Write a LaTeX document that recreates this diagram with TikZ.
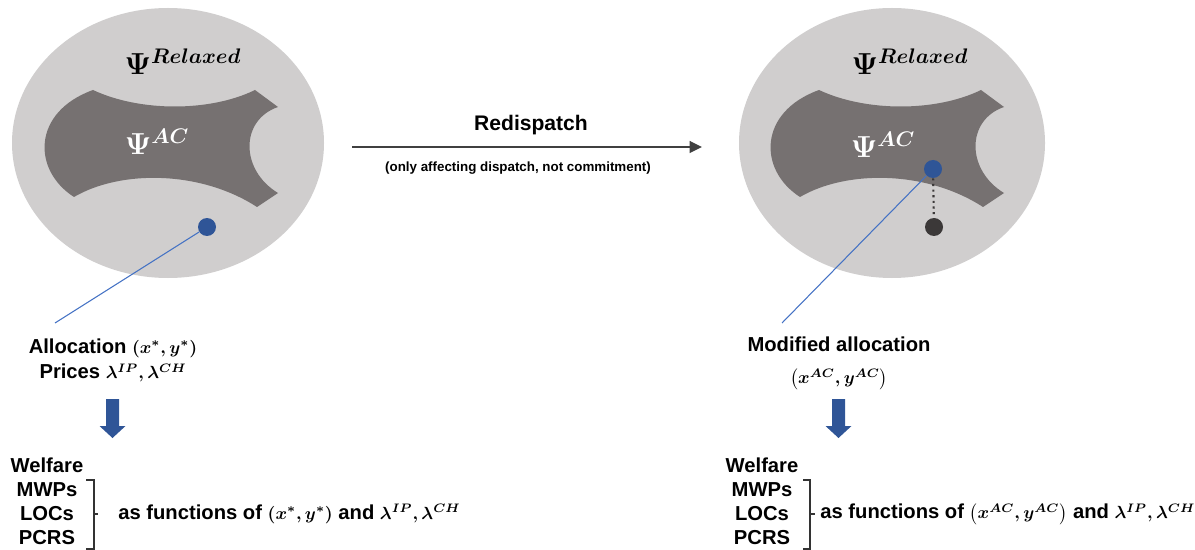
\documentclass[tikz,border=0pt]{standalone}
\usepackage{fontspec}
\setmainfont{Liberation Sans}
\usepackage{amsmath}
\usetikzlibrary{arrows.meta}

\definecolor{setlight}{RGB}{208,206,206}
\definecolor{setdark}{RGB}{118,113,113}
\definecolor{dotblue}{RGB}{47,85,151}
\definecolor{lineblue}{RGB}{68,114,196}
\definecolor{arrowgray}{RGB}{64,64,64}
\definecolor{dotgray}{RGB}{59,56,56}

\newcommand{\acset}{(93,90) .. controls (140,112) and (210,112) .. (255,90) -- (278,107)
    .. controls (240,120) and (240,170) .. (278,193) -- (257,207)
    .. controls (200,170) and (120,170) .. (74,197)
    .. controls (32,170) and (32,112) .. (93,90) -- cycle}
\newcommand{\mth}[1]{{\fontsize{10.2}{12}\selectfont$#1$}}

\begin{document}
\begin{tikzpicture}[x=0.02cm, y=-0.02cm,
    txt/.style = {font=\fontsize{11.5}{14.5}\selectfont\bfseries\boldmath, align=center, inner sep=0pt},
    small/.style = {font=\fontsize{7.6}{9}\selectfont\bfseries, inner sep=0pt},
    setlabel/.style = {font=\fontsize{17}{20}\selectfont\boldmath, inner sep=0pt},
    dot/.style = {circle, minimum size=0.36cm, inner sep=0pt},
    brk/.style = {line width=0.8pt, black!80}]
    \useasboundingbox (0,0) rectangle (1195,550);

    \fill[setlight] (168,143) ellipse [x radius=156, y radius=135];
    \fill[setdark] \acset;
    \fill[setlight] (892,143) ellipse [x radius=153, y radius=135];
    \begin{scope}[xshift=726*0.02cm]
        \fill[setdark] \acset;
    \end{scope}

    \node[setlabel] (relax0) at (183,62) {$\Psi^{Relaxed}$};
    \node[setlabel, white] (ac0) at (157,142) {$\Psi^{AC}$};
    \node[setlabel] (relax1) at (910,62) {$\Psi^{Relaxed}$};
    \node[setlabel, white] (ac1) at (883,145) {$\Psi^{AC}$};

    \node[dot, fill=dotblue] (opt0) at (207,227) {};
    \coordinate (lend0) at (55,323);
    \draw[lineblue, line width=0.6pt] (opt0) -- (lend0);

    \node[dot, fill=dotblue] (opt1) at (933,169) {};
    \node[dot, fill=dotgray] (old1) at (934,227) {};
    \coordinate (lend1) at (782,323);
    \draw[dotgray, dotted, line width=1.2pt] (opt1) -- (old1);
    \draw[lineblue, line width=0.6pt] (opt1) -- (lend1);

    \coordinate (r0) at (352,147);
    \coordinate (r1) at (702,147);
    \draw[arrowgray, line width=1.6pt, -{Triangle[length=7pt, width=6.5pt]}] (r0) -- (r1);
    \node[txt, font=\fontsize{12}{14}\selectfont\bfseries] (redis) at (531,125) {Redispatch};
    \node[small] (note) at (518,168) {(only affecting dispatch, not commitment)};

    \node[txt] (alloc0) at (113,348) {Allocation \mth{(x^*,y^*)}};
    \node[txt] (price0) at (113,373) {Prices \mth{\lambda^{IP},\lambda^{CH}}};
    \fill[dotblue] (106,399) -- (119,399) -- (119,426) -- (125.5,426) -- (112.5,438)
        -- (99.5,426) -- (106,426) -- cycle;

    \node[txt] (wf0) at (47,465) {Welfare};
    \node[txt] (mwp0) at (47,490) {MWPs};
    \node[txt] (loc0) at (47,514) {LOCs};
    \node[txt] (pcr0) at (47,538) {PCRS};
    \draw[brk] (86,480) -- (94,480) -- (94,549) -- (86,549);
    \draw[brk] (94,514) -- (98,514);
    \node[txt, anchor=west] (fun0) at (118,514) {as functions of \mth{(x^*,y^*)} and \mth{\lambda^{IP},\lambda^{CH}}};

    \node[txt] (alloc1) at (839,344) {Modified allocation};
    \node[txt] (pair1) at (839,379) {\mth{\bigl(x^{AC},y^{AC}\bigr)}};
    \fill[dotblue] (832,399) -- (845,399) -- (845,426) -- (851.5,426) -- (838.5,438)
        -- (825.5,426) -- (832,426) -- cycle;

    \node[txt] (wf1) at (762,465) {Welfare};
    \node[txt] (mwp1) at (762,490) {MWPs};
    \node[txt] (loc1) at (762,514) {LOCs};
    \node[txt] (pcr1) at (762,538) {PCRS};
    \draw[brk] (803,480) -- (810,480) -- (810,549) -- (803,549);
    \draw[brk] (810,514) -- (815,514);
    \node[txt, anchor=west] (fun1) at (820,514) {as functions of \mth{\bigl(x^{AC},y^{AC}\bigr)} and \mth{\lambda^{IP},\lambda^{CH}}};
\end{tikzpicture}
\end{document}
